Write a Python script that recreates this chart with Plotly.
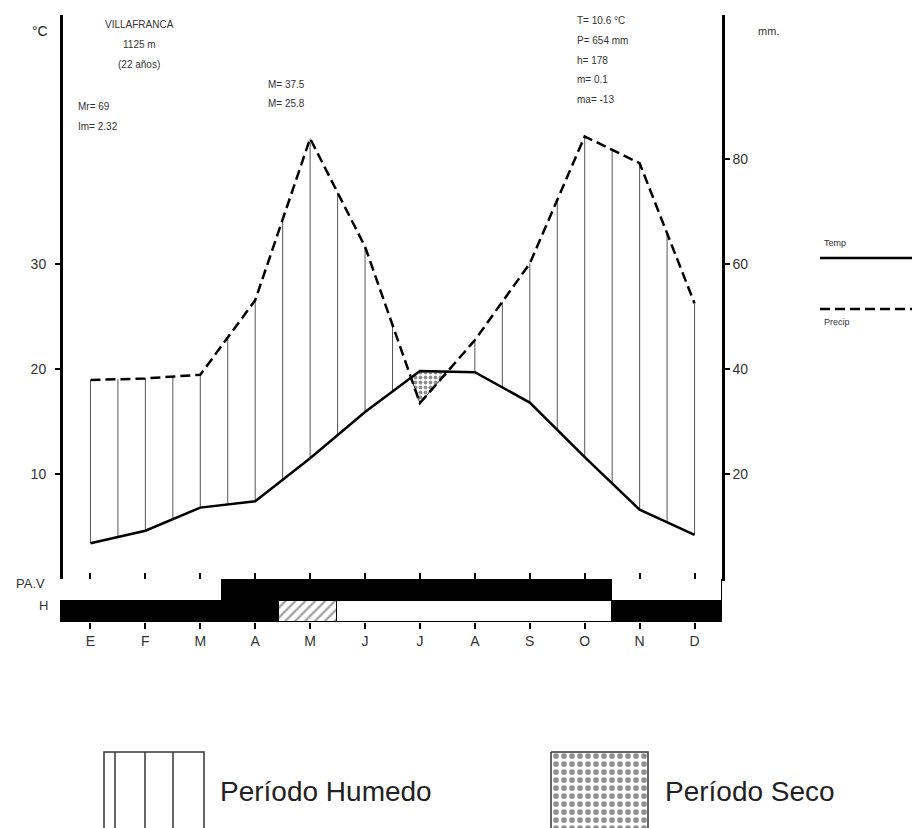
import numpy as np
import plotly.graph_objects as go

# ---------------- data ----------------
months = ["E", "F", "M", "A", "M", "J", "J", "A", "S", "O", "N", "D"]
temp_c = [3.4, 4.6, 6.8, 7.4, 11.5, 15.9, 19.8, 19.7, 16.8, 11.6, 6.6, 4.2]
precip_mm = [37.9, 38.2, 38.9, 53.1, 83.9, 63.3, 33.5, 45.5, 60.1, 84.3, 79.2, 52.5]

temp_ticks = [10, 20, 30]
precip_ticks = [20, 40, 60, 80]

# activity / frost strip (month units, state)
pav_start = [-0.56, 2.4, 9.5]
pav_end = [2.4, 9.5, 11.5]
pav_state = ["white", "black", "white"]
h_start = [-0.56, 3.43, 4.49, 9.5]
h_end = [3.43, 4.49, 9.5, 11.5]
h_state = ["black", "hatch", "white", "black"]

station_lines = ["VILLAFRANCA", "1125 m", "(22 años)"]
left_stats = ["Mr= 69", "Im= 2.32"]
mid_stats = ["M= 37.5", "M= 25.8"]
right_stats = ["T= 10.6 °C", "P= 654 mm", "h= 178", "m= 0.1", "ma= -13"]

# ---------------- geometry helpers ----------------
OFF = 8                     # page body margin
W, H = 920 - OFF, 828 - OFF
def px(x):
    return (x - OFF) / W
def py(y):
    return 1 - (y - OFF) / H

FONT = "Liberation Sans, Arial, sans-serif"
x0_pix, x1_pix = 63, 722
y_bot_pix, y_top_pix = 579, 15
t_top = (y_bot_pix - y_top_pix) / 10.5  # 10 degC = 105 px

idx = np.arange(12)
T = np.array(temp_c)
P = np.array(precip_mm)

fig = go.Figure()

# humid hatch: vertical lines every half month where P > 2T
hx, hy = [], []
for xh in np.arange(0, 11.01, 0.5):
    pv = np.interp(xh, idx, P) / 2
    tv = np.interp(xh, idx, T)
    if pv > tv:
        hx += [xh, xh, None]
        hy += [tv, pv, None]
fig.add_trace(go.Scatter(x=hx, y=hy, mode="lines",
                         line=dict(color="#555555", width=1),
                         hoverinfo="skip", showlegend=False))

# dry polygon(s): where 2T > P
d = P / 2 - T
dry_x, dry_y = [], []
i = 0
while i < 12:
    if d[i] < 0:
        j = i
        while j + 1 < 12 and d[j + 1] < 0:
            j += 1
        xs = []
        if i > 0:
            xs.append(i - 1 + d[i - 1] / (d[i - 1] - d[i]))
        xs += list(range(i, j + 1))
        if j < 11:
            xs.append(j + d[j] / (d[j] - d[j + 1]))
        xs = np.array(xs, dtype=float)
        upper = np.interp(xs, idx, T)
        lower = np.interp(xs, idx, P) / 2
        dry_x += list(xs) + list(xs[::-1]) + [xs[0], None]
        dry_y += list(upper) + list(lower[::-1]) + [upper[0], None]
        i = j + 1
    else:
        i += 1
fig.add_trace(go.Scatter(x=dry_x, y=dry_y, mode="lines", fill="toself",
                         fillcolor="white",
                         fillpattern=dict(shape=".", fgcolor="#222222", bgcolor="white",
                                          size=5, solidity=0.45),
                         line=dict(color="#333333", width=1),
                         hoverinfo="skip", showlegend=False))

# precipitation (dashed) on mm axis
fig.add_trace(go.Scatter(x=idx, y=P, mode="lines", yaxis="y2",
                         line=dict(color="black", width=2.5, dash="10px,5px"),
                         showlegend=False))
# temperature (solid)
fig.add_trace(go.Scatter(x=idx, y=T, mode="lines",
                         line=dict(color="black", width=2.5),
                         showlegend=False))

# strip bars
for s, e, st in zip(pav_start, pav_end, pav_state):
    fig.add_trace(go.Bar(y=["PAV"], x=[e - s], base=[s], orientation="h",
                         xaxis="x2", yaxis="y3", width=1,
                         marker=dict(color="black" if st == "black" else "white",
                                     line=dict(color="black", width=1)),
                         hoverinfo="skip", showlegend=False))
for s, e, st in zip(h_start, h_end, h_state):
    mk = dict(color="black" if st == "black" else "white",
              line=dict(color="black", width=1))
    if st == "hatch":
        mk["pattern"] = dict(shape="/", fgcolor="#333333", bgcolor="white",
                             size=7, solidity=0.3)
    fig.add_trace(go.Bar(y=["H"], x=[e - s], base=[s], orientation="h",
                         xaxis="x2", yaxis="y3", width=1, marker=mk,
                         hoverinfo="skip", showlegend=False))

# legend pattern box (dotted) on pixel axis
box_x = [551, 648, 648, 551, 551]
box_y = [752, 752, 840, 840, 752]
fig.add_trace(go.Scatter(x=box_x, y=box_y, mode="lines", fill="toself",
                         fillcolor="white",
                         fillpattern=dict(shape=".", fgcolor="#222222", bgcolor="white",
                                          size=8, solidity=0.4),
                         line=dict(color="#333333", width=1.5),
                         xaxis="x3", yaxis="y4",
                         hoverinfo="skip", showlegend=False))

axis_font = dict(family=FONT, size=14, color="#333333")
dom_x = [px(x0_pix), px(x1_pix)]
strip_left = 60
fig.update_layout(
    width=W, height=H,
    margin=dict(l=0, r=0, t=0, b=0),
    paper_bgcolor="white", plot_bgcolor="rgba(0,0,0,0)",
    font=dict(family=FONT, color="#222222"),
    bargap=0, barmode="overlay",
    xaxis=dict(domain=dom_x, range=[-0.5, 11.5], showgrid=False, zeroline=False,
               showline=True, linecolor="black", linewidth=2,
               tickvals=list(range(12)), ticks="inside", ticklen=6, tickwidth=2,
               tickcolor="black", showticklabels=False, fixedrange=True),
    yaxis=dict(domain=[py(y_bot_pix), py(y_top_pix)], range=[0, t_top],
               showgrid=False, zeroline=False,
               showline=True, linecolor="black", linewidth=3,
               tickvals=temp_ticks, ticks="outside", ticklen=5, tickwidth=1.5,
               tickcolor="black", tickfont=axis_font, ticklabelstandoff=6),
    yaxis2=dict(overlaying="y", side="right", range=[0, 2 * t_top],
                showgrid=False, zeroline=False,
                showline=True, linecolor="black", linewidth=2.5,
                tickvals=precip_ticks, ticks="outside", ticklen=5, tickwidth=1.5,
                tickcolor="black", tickfont=axis_font, anchor="x"),
    xaxis2=dict(domain=[px(strip_left), px(x1_pix)],
                range=[-0.5 - (x0_pix - strip_left) / ((x1_pix - x0_pix) / 12), 11.5],
                anchor="y3", showgrid=False, zeroline=False, showline=False,
                tickvals=list(range(12)), ticktext=months, ticks="outside",
                ticklen=6, tickwidth=2, tickcolor="black", tickfont=axis_font),
    yaxis3=dict(domain=[py(622), py(y_bot_pix)], anchor="x2",
                categoryorder="array", categoryarray=["H", "PAV"],
                range=[-0.5, 1.5], showticklabels=False, showgrid=False,
                zeroline=False, showline=False),
    xaxis3=dict(domain=[0, 1], range=[OFF, OFF + W], visible=False, anchor="y4"),
    yaxis4=dict(domain=[0, 1], range=[OFF + H, OFF], visible=False, anchor="x3"),
)

ann = []
def text(x, y, s, size=10, anchor="left", color="#333333"):
    ann.append(dict(x=px(x), y=py(y), xref="paper", yref="paper", text=s,
                    showarrow=False, xanchor=anchor, yanchor="middle",
                    font=dict(family=FONT, size=size, color=color)))

for k, s in enumerate(station_lines):
    text(139, 24 + k * 20, s, anchor="center")
for k, s in enumerate(left_stats):
    text(76, 106 + k * 20, s)
for k, s in enumerate(mid_stats):
    text(266, 85 + k * 18, s)
for k, s in enumerate(right_stats):
    text(575, 20 + k * 20, s)

text(40, 31, "°C", size=14, anchor="center", color="#222222")
text(756, 31, "mm.", size=11, anchor="left")
text(47, 583, "PA.V", size=13, anchor="right")
text(50, 605, "H", size=13, anchor="right")
text(822, 243, "Temp", size=9)
text(822, 322, "Precip", size=9)
text(218, 791, "Período Humedo", size=28, color="#222222")
text(663, 791, "Período Seco", size=28, color="#222222")
fig.update_layout(annotations=ann)

shapes = [
    dict(type="line", xref="paper", yref="paper", x0=px(820), x1=px(920),
         y0=py(258), y1=py(258), line=dict(color="black", width=2.5)),
    dict(type="line", xref="paper", yref="paper", x0=px(820), x1=px(920),
         y0=py(309), y1=py(309), line=dict(color="black", width=2.5, dash="10px,5px")),
    dict(type="rect", xref="paper", yref="paper", x0=px(104), x1=px(204),
         y0=py(845), y1=py(752), line=dict(color="#333333", width=1.5)),
]
for lx in [115, 145, 173]:
    shapes.append(dict(type="line", xref="paper", yref="paper", x0=px(lx), x1=px(lx),
                       y0=py(845), y1=py(752), line=dict(color="#333333", width=1.5)))
fig.update_layout(shapes=shapes)

fig.write_html("out.html")
